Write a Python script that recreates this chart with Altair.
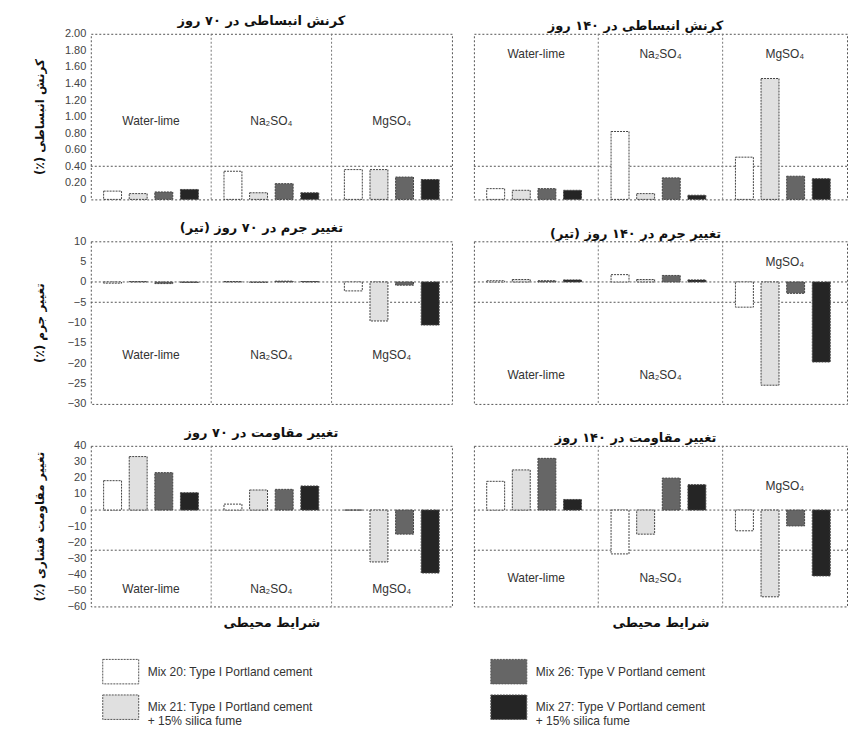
import altair as alt
import pandas as pd

# ---------------- data ----------------
envs = ["Water-lime", "Na₂SO₄", "MgSO₄"]
mixes = [
    "Mix 20: Type I Portland cement",
    "Mix 21: Type I Portland cement|+ 15% silica fume",
    "Mix 26: Type V Portland cement",
    "Mix 27: Type V Portland cement|+ 15% silica fume",
]
mix_colors = ["#ffffff", "#e0e0e0", "#666666", "#252525"]

# values[env][mix]
exp70 = [[0.10, 0.07, 0.09, 0.12], [0.34, 0.08, 0.19, 0.08], [0.36, 0.36, 0.27, 0.24]]
exp140 = [[0.13, 0.11, 0.13, 0.11], [0.82, 0.07, 0.26, 0.05], [0.51, 1.46, 0.28, 0.25]]
mass70 = [[-0.3, 0.1, -0.4, -0.1], [0.1, -0.1, 0.2, 0.1], [-2.2, -9.6, -0.8, -10.6]]
mass140 = [[0.3, 0.6, 0.3, 0.5], [1.8, 0.6, 1.6, 0.5], [-6.2, -25.4, -2.8, -19.7]]
str70 = [[18.3, 33.3, 23.3, 10.8], [3.7, 12.5, 12.9, 15.0], [0.0, -32.3, -15.0, -39.2]]
str140 = [[17.9, 25.0, 32.2, 6.6], [-27.3, -15.0, 19.9, 15.8], [-12.9, -54.0, -9.9, -41.0]]

# where the environment names sit in each panel (y value per env)
lab_exp70 = [0.95, 0.95, 0.95]
lab_exp140 = [1.75, 1.75, 1.75]
lab_mass70 = [-18, -18, -18]
lab_mass140 = [-23, -23, 5]
lab_str70 = [-49, -49, -49]
lab_str140 = [-42, -42, 15]

# dotted horizontal reference lines per panel
hl_exp = [0.4]
hl_mass = [0, -5]
hl_str = [0, -25]

exp_ticks = [0, 0.2, 0.4, 0.6, 0.8, 1.0, 1.2, 1.4, 1.6, 1.8, 2.0]
mass_ticks = [10, 5, 0, -5, -10, -15, -20, -25, -30]
str_ticks = [40, 30, 20, 10, 0, -10, -20, -30, -40, -50, -60]

titles = [
    "کرنش انبساطی در ۷۰ روز", "کرنش انبساطی در ۱۴۰ روز",
    "تغییر جرم در ۷۰ روز (تیر)", "تغییر جرم در ۱۴۰ روز (تیر)",
    "تغییر مقاومت در ۷۰ روز", "تغییر مقاومت در ۱۴۰ روز",
]
ytitles = ["کرنش انبساطی (٪)", "تغییر جرم (٪)", "تغییر مقاومت فشاری (٪)"]
xtitle = "شرایط محیطی"

def rtl(s):
    return "\u202b" + s + "\u202c"

FA = "DejaVu Sans"
LA = "Liberation Sans, Arial, DejaVu Sans"

fill_scale = alt.Scale(domain=mixes, range=mix_colors)
xscale = alt.Scale(domain=envs, paddingInner=0, paddingOuter=0)
xoff_scale = alt.Scale(domain=mixes, paddingInner=0.3, paddingOuter=0.5)

legend = alt.Legend(
    title=None, orient="none", legendX=11, legendY=620, columns=2,
    columnPadding=175, rowPadding=2, direction="vertical",
    symbolType="M-1,-0.68L1,-0.68L1,0.68L-1,0.68Z", symbolSize=1300,
    symbolStrokeColor="#555", symbolStrokeWidth=1, symbolDash=[2, 1],
    symbolOpacity=1,
    labelFont=LA, labelFontSize=12, labelColor="#333", labelLimit=0,
    labelOffset=8, labelExpr="split(datum.label, '|')",
)


def panel(vals, labs, hls, domain, ticks, fmt, title, ytitle, left, bottom, width, height):
    rows = []
    for i, e in enumerate(envs):
        for j, m in enumerate(mixes):
            rows.append({"env": e, "mix": m, "v": vals[i][j]})
    df = pd.DataFrame(rows)
    lab_df = pd.DataFrame({"env": envs, "v": labs})
    sep_df = pd.DataFrame({"env": envs[1:]})
    hl_df = pd.DataFrame({"v": hls})

    yscale = alt.Scale(domain=domain, nice=False, zero=False)
    if left:
        yaxis = alt.Axis(
            values=ticks, labelExpr=fmt, title=rtl(ytitle), titleFont=FA,
            titleFontSize=12, titleFontWeight="bold", titleColor="#111",
            titlePadding=14, labelFont=LA, labelFontSize=11, labelColor="#444",
            labelPadding=5, ticks=False, domain=False, grid=False,
            minExtent=30, maxExtent=30,
        )
    else:
        yaxis = None
    if bottom:
        xaxis = alt.Axis(
            title=rtl(xtitle), titleFont=FA, titleFontSize=13, titleFontWeight="bold",
            titleColor="#111", titlePadding=10, labels=False, ticks=False,
            domain=False, grid=False,
        )
    else:
        xaxis = None

    hl = alt.Chart(hl_df).mark_rule(color="#555", strokeDash=[2, 2], strokeWidth=1).encode(
        y=alt.Y("v:Q", scale=yscale, axis=yaxis)
    )
    sep = alt.Chart(sep_df).mark_rule(color="#777", strokeDash=[2, 2], strokeWidth=1).encode(
        x=alt.X("env:N", scale=xscale, axis=xaxis, bandPosition=0)
    )
    bars = alt.Chart(df).mark_bar(stroke="#444", strokeWidth=1, strokeDash=[2, 1]).encode(
        x=alt.X("env:N", scale=xscale, axis=xaxis),
        xOffset=alt.XOffset("mix:N", scale=xoff_scale),
        y=alt.Y("v:Q", scale=yscale, axis=yaxis),
        y2=alt.datum(0),
        fill=alt.Fill("mix:N", scale=fill_scale, legend=legend),
    )
    txt = alt.Chart(lab_df).mark_text(font=LA, fontSize=12, color="#333").encode(
        x=alt.X("env:N", scale=xscale, axis=xaxis),
        y=alt.Y("v:Q", scale=yscale, axis=yaxis),
        text="env:N",
    )
    return alt.layer(hl, sep, bars, txt).properties(
        width=width, height=height,
        title=alt.TitleParams(rtl(title), font=FA, fontSize=13, fontWeight="bold",
                              color="#111", anchor="middle", offset=0,
                              dx=-10 if left else -25),
    )


fmt_exp = "datum.value == 0 ? '0' : format(datum.value, '.2f')"
fmt_int = "format(datum.value, 'd')"

WL, WR = 362, 374
p = [
    panel(exp70, lab_exp70, hl_exp, [0, 2], exp_ticks, fmt_exp, titles[0], ytitles[0], True, False, WL, 166),
    panel(exp140, lab_exp140, hl_exp, [0, 2], exp_ticks, fmt_exp, titles[1], ytitles[0], False, False, WR, 166),
    panel(mass70, lab_mass70, hl_mass, [-30, 10], mass_ticks, fmt_int, titles[2], ytitles[1], True, False, WL, 163),
    panel(mass140, lab_mass140, hl_mass, [-30, 10], mass_ticks, fmt_int, titles[3], ytitles[1], False, False, WR, 163),
    panel(str70, lab_str70, hl_str, [-60, 40], str_ticks, fmt_int, titles[4], ytitles[2], True, True, WL, 161),
    panel(str140, lab_str140, hl_str, [-60, 40], str_ticks, fmt_int, titles[5], ytitles[2], False, True, WR, 161),
]

chart = alt.concat(*p, columns=2, spacing={"row": 16, "column": 20}).properties(
    padding={"left": 25, "top": 5, "right": 5, "bottom": 0},
    background="#ffffff",
).configure_view(
    stroke="#555", strokeDash=[2, 2], strokeWidth=1
)

chart.save("out.html", embed_options={"renderer": "svg", "actions": False})
